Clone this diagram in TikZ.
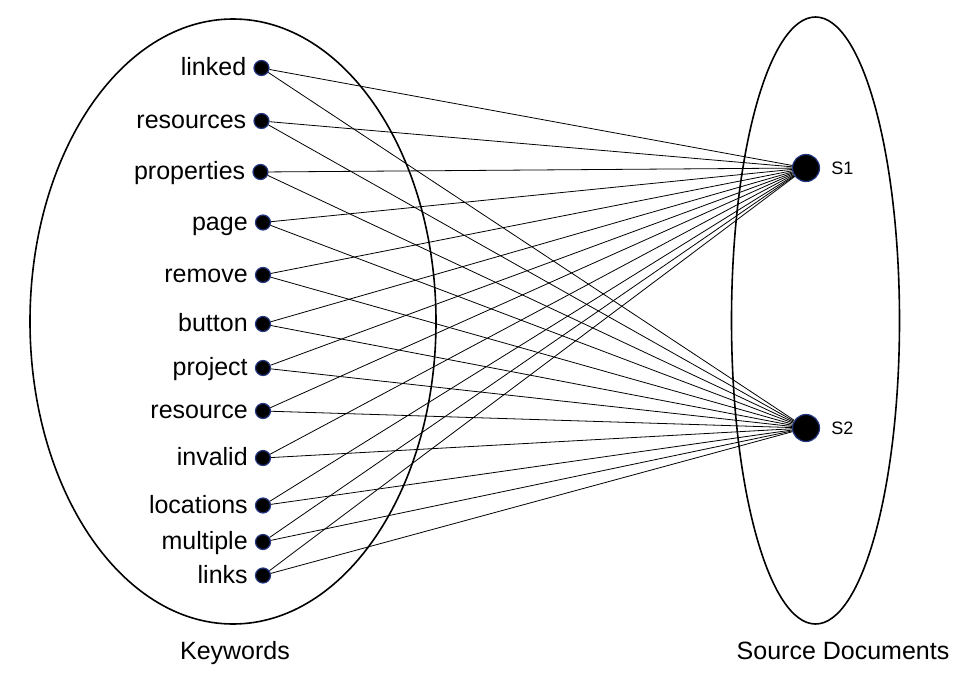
\documentclass[tikz,border=0pt]{standalone}
\usepackage{fontspec}
\setmainfont{Liberation Sans}
\usetikzlibrary{positioning}
\definecolor{dotrim}{RGB}{35,55,130}
\tikzset{
  keydot/.style={circle, fill=black, draw=dotrim, line width=1.2pt, minimum size=15pt, inner sep=0pt},
  docdot/.style={circle, fill=black, draw=dotrim, line width=1.2pt, minimum size=27pt, inner sep=0pt},
  keylabel/.style={font=\fontsize{25}{30}\selectfont, inner sep=0pt, text height=19pt, text depth=4pt},
  doclabel/.style={font=\fontsize{18}{22}\selectfont, inner sep=0pt, text height=13pt, text depth=0pt},
  link/.style={line width=0.8pt},
}
\begin{document}
\begin{tikzpicture}[x=1pt,y=-1pt]
    \useasboundingbox (0,0) rectangle (975,691);
    % Sets
    \draw[line width=1.6pt] (233,321.5) ellipse [x radius=203pt, y radius=302.5pt];
    \draw[line width=1.6pt] (815.5,320.5) ellipse [x radius=84pt, y radius=303.5pt];

    % Source documents
    \node[docdot] (s1) at (806,168) {};
    \node[docdot] (s2) at (806,428) {};
    \node[doclabel, right=11pt of s1] (s1label) {S1};
    \node[doclabel, right=11pt of s2] (s2label) {S2};

    % Keywords
    \foreach \word/\x/\y in {linked/261.5/68, resources/261.5/121, properties/260.5/172,
        page/263/222.5, remove/263/275, button/263/324, project/263/368, resource/263/411,
        invalid/263/458, locations/263/505.5, multiple/263/542, links/263/575.5}{
        \node[keydot] (\word) at (\x,\y) {};
        \node[keylabel, left=7pt of \word] (\word label) {\word};
    }

    % Links
    \foreach \word in {linked, resources, properties, page, remove, button, project,
        resource, invalid, locations, multiple, links}{
        \draw[link] (\word) -- (s1);
        \draw[link] (\word) -- (s2);
    }

    % Captions
    \node[keylabel, anchor=base] (keywords) at (235,659) {Keywords};
    \node[keylabel, anchor=base] (sources) at (843,659) {Source Documents};
\end{tikzpicture}
\end{document}
